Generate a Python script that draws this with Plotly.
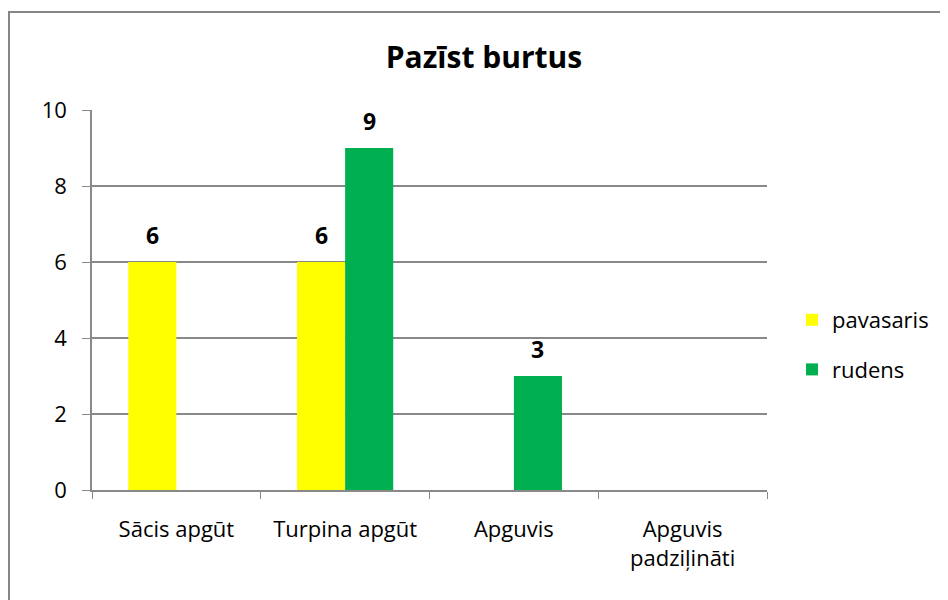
import plotly.graph_objects as go

categories = ["Sācis apgūt", "Turpina apgūt", "Apguvis", "Apguvis<br>padziļināti"]
pavasaris = [6, 6, None, None]
rudens = [None, 9, 3, None]
series_names = ["pavasaris", "rudens"]
series_colors = ["#FFFF00", "#00B050"]
y_ticks = [0, 2, 4, 6, 8, 10]
title_text = "Pazīst burtus"

FONT = "Open Sans, Calibri, sans-serif"
GRID = "#898989"

fig = go.Figure()
for name, vals, col in zip(series_names, [pavasaris, rudens], series_colors):
    fig.add_trace(go.Bar(
        x=categories, y=vals, name=name, marker=dict(color=col, line=dict(width=0)),
        legendgroup=name,
    ))

# data labels
for i, vals in enumerate([pavasaris, rudens]):
    shift = -24 if i == 0 else 24
    for c, v in zip(categories, vals):
        if v:
            fig.add_annotation(x=c, y=v, text=f"<b>{v}</b>", showarrow=False,
                               xshift=shift, yshift=27, yanchor="middle",
                               font=dict(family=FONT, size=23, color="#000000"))

# figure is placed 8px into the page (body margin)
FW, FH = 940, 592
pl, pr, pt, pb = 84, 759, 102, 482
W, H = pr - pl, pb - pt
fig.add_shape(type="rect", xref="paper", yref="paper",
              x0=(1 - pl) / W, x1=(948 - pl) / W,
              y0=(pb - 600) / H, y1=(pb - 4) / H,
              line=dict(color="#868686", width=2), layer="below")

fig.update_layout(
    width=FW, height=FH,
    margin=dict(l=pl, r=FW - pr, t=pt, b=FH - pb),
    paper_bgcolor="white", plot_bgcolor="white",
    barmode="group", bargap=0.43, bargroupgap=0,
    font=dict(family=FONT, size=22, color="#000000"),
    title=dict(text=f"<b>{title_text}</b>", x=(476 - pl) / W, xref="paper", xanchor="center",
               y=1 - 49 / FH, yanchor="middle", font=dict(family=FONT, size=30, color="#000000")),
    legend=dict(x=(784 - pl) / W, xanchor="left", y=(pb - 337) / H, yanchor="middle",
                font=dict(family=FONT, size=22), tracegroupgap=18, traceorder="grouped",
                bgcolor="rgba(0,0,0,0)"),
    showlegend=True,
)
fig.update_xaxes(
    type="category", tickson="boundaries", ticks="outside", ticklen=7, tickcolor=GRID,
    showline=True, linecolor=GRID, linewidth=1.5, showgrid=False,
    ticklabelstandoff=19, tickfont=dict(family=FONT, size=22),
)
fig.update_yaxes(
    range=[0, 10], tickvals=y_ticks, ticks="outside", ticklen=8, tickcolor=GRID,
    showline=True, linecolor=GRID, linewidth=1.5, showgrid=True, gridcolor=GRID, gridwidth=1.5,
    zeroline=False, ticklabelstandoff=11, tickfont=dict(family=FONT, size=22),
)

fig.write_html("out.html")
